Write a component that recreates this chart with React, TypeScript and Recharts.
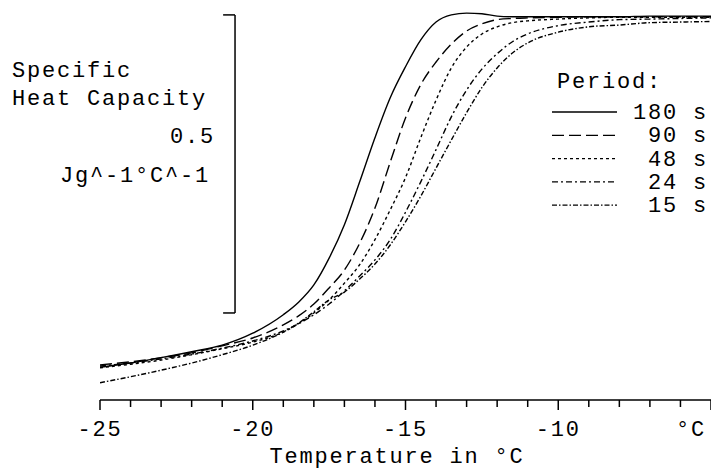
import React from 'react';
import {
  Customized,
  Legend,
  Line,
  LineChart,
  ReferenceLine,
  XAxis,
  YAxis,
} from 'recharts';

// temperature in °C
const temps = [
  -25, -24, -23, -22, -21, -20, -19, -18.5, -18, -17.5, -17, -16.5, -16, -15.5,
  -15, -14.5, -14, -13.5, -13, -12.5, -12, -11.5, -11, -10, -9, -8, -7, -6, -5,
];

// specific heat capacity (J/g/°C, arbitrary offset) per modulation period
const cp180 = [
  0.055, 0.062, 0.071, 0.081, 0.092, 0.112, 0.143, 0.164, 0.193, 0.238, 0.294,
  0.366, 0.44, 0.507, 0.559, 0.604, 0.634, 0.646, 0.649, 0.648, 0.644, 0.643,
  0.643, 0.643, 0.643, 0.643, 0.644, 0.644, 0.644,
];
const cp90 = [
  0.059, 0.064, 0.071, 0.079, 0.091, 0.104, 0.126, 0.141, 0.161, 0.188, 0.218,
  0.263, 0.322, 0.399, 0.473, 0.529, 0.567, 0.597, 0.619, 0.631, 0.638, 0.64,
  0.641, 0.642, 0.643, 0.643, 0.643, 0.643, 0.643,
];
const cp48 = [
  0.054, 0.06, 0.067, 0.076, 0.086, 0.097, 0.114, 0.128, 0.146, 0.168, 0.196,
  0.227, 0.269, 0.319, 0.373, 0.44, 0.503, 0.557, 0.592, 0.614, 0.626, 0.633,
  0.636, 0.639, 0.641, 0.642, 0.642, 0.642, 0.642,
];
const cp24 = [
  0.057, 0.062, 0.069, 0.077, 0.087, 0.099, 0.116, 0.128, 0.143, 0.161, 0.183,
  0.208, 0.235, 0.269, 0.315, 0.366, 0.42, 0.475, 0.52, 0.555, 0.581, 0.601,
  0.614, 0.628, 0.634, 0.638, 0.639, 0.64, 0.641,
];
const cp15 = [
  0.029, 0.039, 0.05, 0.062, 0.076, 0.092, 0.114, 0.129, 0.148, 0.168, 0.181,
  0.203, 0.228, 0.26, 0.299, 0.342, 0.389, 0.436, 0.482, 0.524, 0.557, 0.582,
  0.599, 0.617, 0.626, 0.629, 0.633, 0.634, 0.635,
];

const xTicks = [
  -25, -24, -23, -22, -21, -20, -19, -18, -17, -16, -15, -14, -13, -12, -11,
  -10, -9, -8, -7, -6, -5,
];
const tickLabels: Record<number, string> = {
  [-25]: '-25',
  [-20]: '-20',
  [-15]: '-15',
  [-10]: '-10',
  [-5]: '°C',
};

const periods = ['180 s', '90 s', '48 s', '24 s', '15 s'];
const dashes = [undefined, '12 5', '3 3', '6 3 2 3', '5 2 1.5 2'];
const seriesKeys = ['p180', 'p90', 'p48', 'p24', 'p15'];

// scale bar: 0.5 J/g/°C
const scaleBarX = -20.58;
const scaleBarFoot = -20.97;
const scaleBarLow = 0.146;
const scaleBarHigh = 0.646;

const data = temps.map((t, i) => ({
  t,
  p180: cp180[i],
  p90: cp90[i],
  p48: cp48[i],
  p24: cp24[i],
  p15: cp15[i],
}));

const FONT = "'Liberation Mono', 'DejaVu Sans Mono', monospace";
const textStyle = { fontFamily: FONT, fontSize: 22, letterSpacing: 1.8, fill: '#000' };

const AxisTick = ({ x, y, payload }: any) => {
  const v = payload.value;
  const label = tickLabels[v];
  const major = label !== undefined;
  return (
    <g>
      <line x1={x} x2={x} y1={y} y2={y + (major ? 10 : 7)} stroke="#000" strokeWidth={1.5} />
      {major && (
        <text
          x={v === -5 ? x - 5 : x}
          y={y + 36}
          textAnchor={v === -5 ? 'end' : 'middle'}
          style={textStyle}
        >
          {label}
        </text>
      )}
    </g>
  );
};

const Annotations = () => (
  <g style={textStyle}>
    <text x={12} y={77} style={textStyle}>Specific</text>
    <text x={12} y={105} style={textStyle}>Heat Capacity</text>
    <text x={215} y={143} textAnchor="end" style={textStyle}>0.5</text>
    <text x={210} y={182} textAnchor="end" style={textStyle}>Jg^-1°C^-1</text>
    <text x={397} y={463} textAnchor="middle" style={textStyle}>Temperature in °C</text>
  </g>
);

const PeriodLegend = () => (
  <svg width={160} height={160}>
    <text x={5} y={26} style={textStyle}>Period:</text>
    {periods.map((p, i) => {
      const cy = 50 + i * 23.3;
      return (
        <g key={p}>
          <line x1={0} x2={65} y1={cy} y2={cy} stroke="#000" strokeWidth={1.3} strokeDasharray={dashes[i]} />
          <text x={156} y={cy + 7} textAnchor="end" style={textStyle}>{p}</text>
        </g>
      );
    })}
  </svg>
);

export default function App() {
  return (
    <div style={{ position: 'absolute', left: 0, top: 0, width: 711, height: 470, background: '#fff' }}>
      <LineChart
        width={711}
        height={470}
        data={data}
        margin={{ top: 0, right: 0, left: 100, bottom: 0 }}
      >
        <XAxis
          dataKey="t"
          type="number"
          domain={[-25, -5]}
          ticks={xTicks}
          interval={0}
          height={70}
          tickSize={0}
          tickMargin={0}
          tickLine={false}
          axisLine={{ stroke: '#000', strokeWidth: 1.5 }}
          tick={<AxisTick />}
          allowDataOverflow
        />
        <YAxis hide type="number" domain={[0, 0.671]} allowDataOverflow />
        <ReferenceLine
          segment={[{ x: scaleBarX, y: scaleBarLow }, { x: scaleBarX, y: scaleBarHigh }]}
          stroke="#000"
          strokeWidth={1.5}
          ifOverflow="visible"
        />
        <ReferenceLine
          segment={[{ x: scaleBarFoot, y: scaleBarHigh }, { x: scaleBarX, y: scaleBarHigh }]}
          stroke="#000"
          strokeWidth={1.5}
          ifOverflow="visible"
        />
        <ReferenceLine
          segment={[{ x: scaleBarFoot, y: scaleBarLow }, { x: scaleBarX, y: scaleBarLow }]}
          stroke="#000"
          strokeWidth={1.5}
          ifOverflow="visible"
        />
        {seriesKeys.map((k, i) => (
          <Line
            key={k}
            type="monotone"
            dataKey={k}
            name={periods[i]}
            stroke="#000"
            strokeWidth={1.4}
            strokeDasharray={dashes[i]}
            dot={false}
            activeDot={false}
            isAnimationActive={false}
          />
        ))}
        <Legend
          layout="horizontal"
          verticalAlign="middle"
          content={<PeriodLegend />}
          wrapperStyle={{ position: 'absolute', left: 552, top: 62, width: 160, height: 160 }}
        />
        <Customized component={<Annotations />} />
      </LineChart>
    </div>
  );
}
